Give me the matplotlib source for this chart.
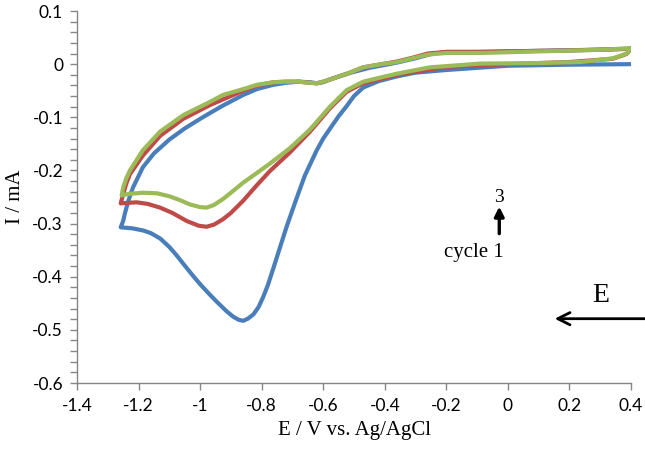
import matplotlib
matplotlib.use("Agg")
import matplotlib.pyplot as plt
import numpy as np

# cycle 1 (blue): cathodic scan 0.4 -> -1.26 V, then anodic scan back to 0.4 V
e1_fwd = [0.4, 0.2, 0.0, -0.1, -0.2, -0.3, -0.36, -0.42, -0.47, -0.5, -0.524, -0.55,
          -0.568, -0.6, -0.621, -0.66, -0.69, -0.719, -0.74, -0.762, -0.78, -0.795,
          -0.81, -0.827, -0.845, -0.86, -0.875, -0.893, -0.914, -0.946, -0.968, -1.0,
          -1.022, -1.05, -1.076, -1.1, -1.13, -1.16, -1.185, -1.22, -1.258]
i1_fwd = [0.0, -0.001, -0.003, -0.007, -0.011, -0.016, -0.023, -0.032, -0.044, -0.06,
          -0.079, -0.098, -0.113, -0.14, -0.162, -0.21, -0.258, -0.306, -0.344, -0.384,
          -0.416, -0.438, -0.457, -0.471, -0.479, -0.483, -0.481, -0.475, -0.465, -0.447,
          -0.434, -0.414, -0.399, -0.379, -0.36, -0.344, -0.328, -0.318, -0.313, -0.309,
          -0.307]
e1_rev = [-1.258, -1.25, -1.244, -1.232, -1.218, -1.186, -1.15, -1.1, -1.05, -1.0,
          -0.968, -0.926, -0.86, -0.816, -0.763, -0.72, -0.68, -0.645, -0.62, -0.6,
          -0.57, -0.51, -0.45, -0.36, -0.3, -0.25, -0.2, -0.1, 0.0, 0.2, 0.4]
i1_rev = [-0.307, -0.295, -0.28, -0.255, -0.232, -0.194, -0.168, -0.142, -0.121, -0.103,
          -0.092, -0.078, -0.058, -0.047, -0.039, -0.035, -0.033, -0.034, -0.036, -0.034,
          -0.027, -0.016, -0.007, 0.003, 0.011, 0.019, 0.023, 0.023, 0.024, 0.026, 0.029]

# cycle 2 (red)
e2_fwd = [0.4, 0.385, 0.34, 0.2, 0.0, -0.2, -0.36, -0.47, -0.524, -0.578, -0.643,
          -0.708, -0.773, -0.816, -0.86, -0.9, -0.926, -0.955, -0.979, -1.005, -1.044,
          -1.09, -1.13, -1.17, -1.206, -1.235, -1.258]
i2_fwd = [0.029, 0.019, 0.01, 0.004, 0.0, -0.005, -0.02, -0.036, -0.052, -0.083, -0.127,
          -0.166, -0.201, -0.228, -0.257, -0.28, -0.292, -0.302, -0.306, -0.304, -0.295,
          -0.28, -0.27, -0.263, -0.26, -0.261, -0.262]
e2_rev = [-1.258, -1.25, -1.24, -1.228, -1.186, -1.13, -1.055, -0.968, -0.86, -0.816,
          -0.76, -0.72, -0.68, -0.645, -0.621, -0.6, -0.568, -0.513, -0.47, -0.41,
          -0.36, -0.31, -0.26, -0.2, -0.09, 0.1, 0.3, 0.4]
i2_rev = [-0.262, -0.245, -0.225, -0.207, -0.172, -0.135, -0.103, -0.077, -0.05, -0.04,
          -0.034, -0.033, -0.033, -0.035, -0.036, -0.033, -0.027, -0.016, -0.006, 0.0,
          0.005, 0.012, 0.02, 0.023, 0.023, 0.025, 0.027, 0.029]

# cycle 3 (green)
e3_fwd = [0.4, 0.386, 0.342, 0.234, 0.1, -0.09, -0.253, -0.361, -0.42, -0.47, -0.524,
          -0.578, -0.643, -0.708, -0.773, -0.816, -0.86, -0.9, -0.926, -0.955, -0.979,
          -1.0, -1.033, -1.065, -1.098, -1.14, -1.186, -1.23, -1.255]
i3_fwd = [0.03, 0.02, 0.011, 0.004, 0.002, 0.001, -0.006, -0.018, -0.026, -0.033,
          -0.049, -0.08, -0.123, -0.158, -0.187, -0.205, -0.223, -0.242, -0.254, -0.265,
          -0.27, -0.269, -0.264, -0.256, -0.249, -0.243, -0.242, -0.244, -0.247]
e3_rev = [-1.255, -1.25, -1.24, -1.228, -1.186, -1.13, -1.055, -0.968, -0.926, -0.86,
          -0.816, -0.76, -0.72, -0.68, -0.645, -0.621, -0.6, -0.568, -0.513, -0.47,
          -0.41, -0.36, -0.31, -0.26, -0.2, -0.09, 0.1, 0.3, 0.4]
i3_rev = [-0.247, -0.232, -0.215, -0.2, -0.162, -0.127, -0.096, -0.071, -0.058, -0.047,
          -0.039, -0.034, -0.033, -0.033, -0.035, -0.036, -0.033, -0.027, -0.016, -0.006,
          0.0, 0.004, 0.011, 0.018, 0.021, 0.021, 0.024, 0.027, 0.03]

cycles = [
    (e1_fwd + e1_rev[1:], i1_fwd + i1_rev[1:], "#4A7EBB"),
    (e2_fwd + e2_rev[1:], i2_fwd + i2_rev[1:], "#BE4B48"),
    (e3_fwd + e3_rev[1:], i3_fwd + i3_rev[1:], "#9BBB59"),
]

x_ticks = [-1.4, -1.2, -1.0, -0.8, -0.6, -0.4, -0.2, 0.0, 0.2, 0.4]
x_labels = ["-1.4", "-1.2", "-1", "-0.8", "-0.6", "-0.4", "-0.2", "0", "0.2", "0.4"]
y_ticks = [0.1, 0.0, -0.1, -0.2, -0.3, -0.4, -0.5, -0.6]
y_labels = ["0.1", "0", "-0.1", "-0.2", "-0.3", "-0.4", "-0.5", "-0.6"]

serif = "Liberation Serif"
tick_font = "Lato"

fig = plt.figure(figsize=(6.45, 4.5), dpi=100)
ax = fig.add_axes([77 / 645, 1 - 383 / 450, (631 - 77) / 645, (383 - 11) / 450])

for e, i, c in cycles:
    ax.plot(e, i, color=c, lw=3.0, solid_joinstyle="round", solid_capstyle="round")

ax.set_xlim(-1.4, 0.4)
ax.set_ylim(-0.6, 0.1)
ax.set_xticks(x_ticks)
ax.set_xticklabels(x_labels, fontfamily=tick_font, fontsize=12.5)
ax.set_yticks(y_ticks)
ax.set_yticklabels(y_labels, fontfamily=tick_font, fontsize=12.5)
ax.set_yticks(np.arange(-0.6, 0.1001, 0.02), minor=True)

for side in ["top", "right"]:
    ax.spines[side].set_visible(False)
for side in ["left", "bottom"]:
    ax.spines[side].set_color("#868686")
    ax.spines[side].set_linewidth(1.0)
ax.tick_params(axis="both", which="both", direction="out", color="#868686", width=1.0)
ax.tick_params(axis="y", which="major", length=5, pad=5)
ax.tick_params(axis="y", which="minor", length=5)
ax.tick_params(axis="x", which="major", length=5, pad=6)

ax.set_xlabel("E / V vs. Ag/AgCl", fontfamily=serif, fontsize=15, labelpad=5)
ax.set_ylabel("I / mA", fontfamily=serif, fontsize=15, labelpad=5)

# cycle arrow
ax.annotate("", xy=(-0.028, -0.268), xytext=(-0.028, -0.319),
            arrowprops=dict(arrowstyle="-|>", color="black", lw=2.4,
                            mutation_scale=14, shrinkA=0, shrinkB=0))
ax.text(-0.03, -0.251, "3", fontfamily=serif, fontsize=14, ha="center", va="center")
ax.text(-0.11, -0.354, "cycle 1", fontfamily=serif, fontsize=15, ha="center", va="center")

# scan direction arrow
ax.annotate("", xy=(0.152, -0.479), xytext=(0.445, -0.479),
            arrowprops=dict(arrowstyle="->", color="black", lw=2.0,
                            mutation_scale=22, shrinkA=0, shrinkB=0),
            annotation_clip=False)
ax.text(0.303, -0.436, "E", fontfamily=serif, fontsize=20, ha="center", va="center")

fig.savefig("out.png", dpi=100)
